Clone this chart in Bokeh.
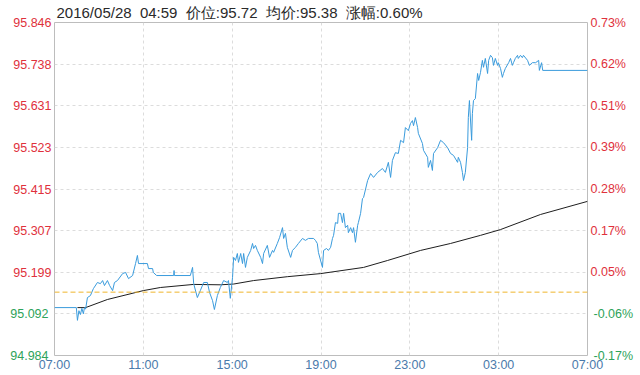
from bokeh.plotting import figure
from bokeh.models import (Range1d, LinearAxis, FixedTicker, Span, CustomJSTickFormatter)
from bokeh.embed import file_html
from bokeh.resources import INLINE

# ---------------- data ----------------
# minutes after 07:00 (session 07:00 -> 07:00 next day)
price_min = [0, 59, 62, 66, 70, 74, 78, 81, 84, 89, 97, 105, 116, 124, 130, 135, 143, 149, 157, 162,
             170, 184, 192, 200, 211, 219, 224, 227, 251, 254, 265, 267, 276, 322, 323, 324, 367, 373, 376, 386,
             394, 403, 413, 419, 427, 432, 440, 448, 457, 467, 470, 475, 481, 484, 489, 494, 497, 503, 508, 511,
             516, 521, 530, 535, 538, 543, 548, 557, 562, 565, 575, 581, 589, 592, 602, 608, 616, 619, 624, 629,
             638, 643, 651, 659, 670, 678, 686, 700, 705, 710, 713, 724, 727, 735, 740, 746, 751, 754, 759, 765,
             767, 773, 778, 781, 786, 792, 794, 800, 805, 808, 813, 819, 821, 827, 832, 835, 846, 854, 862, 873,
             886, 894, 902, 908, 913, 921, 929, 935, 943, 948, 956, 962, 967, 970, 975, 981, 983, 994, 997, 1008,
             1010, 1016, 1021, 1024, 1035, 1043, 1051, 1062, 1070, 1078, 1089, 1091, 1097, 1102, 1105, 1110, 1116, 1118, 1121, 1127,
             1129, 1132, 1137, 1143, 1146, 1151, 1156, 1159, 1164, 1170, 1173, 1178, 1183, 1186, 1191, 1197, 1199, 1205, 1210, 1213,
             1218, 1227, 1232, 1237, 1240, 1245, 1251, 1253, 1259, 1264, 1267, 1278, 1283, 1291, 1300, 1308, 1310, 1316, 1319, 1440]
price = [95.108, 95.108, 95.075, 95.100, 95.090, 95.106, 95.092, 95.108, 95.104, 95.134, 95.139, 95.157, 95.173, 95.170, 95.178, 95.165, 95.178, 95.165, 95.152, 95.173,
         95.178, 95.196, 95.199, 95.183, 95.191, 95.222, 95.243, 95.222, 95.222, 95.209, 95.209, 95.199, 95.191, 95.191, 95.204, 95.191, 95.191, 95.212, 95.170, 95.134,
         95.152, 95.173, 95.173, 95.147, 95.126, 95.103, 95.139, 95.160, 95.178, 95.173, 95.178, 95.132, 95.186, 95.238, 95.230, 95.248, 95.225, 95.248, 95.222, 95.248,
         95.212, 95.238, 95.256, 95.274, 95.261, 95.269, 95.256, 95.238, 95.222, 95.248, 95.269, 95.238, 95.256, 95.251, 95.274, 95.289, 95.315, 95.287, 95.300, 95.264,
         95.238, 95.256, 95.264, 95.274, 95.287, 95.282, 95.287, 95.287, 95.282, 95.274, 95.251, 95.212, 95.256, 95.261, 95.256, 95.264, 95.287, 95.295, 95.328, 95.326,
         95.352, 95.352, 95.328, 95.352, 95.315, 95.321, 95.302, 95.315, 95.302, 95.315, 95.277, 95.321, 95.328, 95.352, 95.390, 95.393, 95.437, 95.455, 95.445, 95.458,
         95.468, 95.458, 95.484, 95.445, 95.489, 95.509, 95.507, 95.541, 95.535, 95.574, 95.566, 95.585, 95.592, 95.579, 95.600, 95.574, 95.559, 95.533, 95.515, 95.497,
         95.471, 95.489, 95.463, 95.507, 95.522, 95.541, 95.535, 95.522, 95.507, 95.502, 95.484, 95.497, 95.484, 95.458, 95.437, 95.458, 95.522, 95.600, 95.644, 95.541,
         95.610, 95.644, 95.649, 95.714, 95.696, 95.717, 95.748, 95.730, 95.753, 95.714, 95.748, 95.761, 95.755, 95.735, 95.753, 95.735, 95.742, 95.727, 95.704, 95.714,
         95.727, 95.742, 95.753, 95.735, 95.742, 95.753, 95.761, 95.753, 95.761, 95.755, 95.761, 95.748, 95.735, 95.742, 95.742, 95.748, 95.722, 95.742, 95.722, 95.722]

avg_min = [62, 84, 143, 240, 286, 376, 448, 484, 538, 629, 719, 835, 900, 989, 1070, 1151, 1205, 1313, 1440]
avg_price = [95.108, 95.108, 95.129, 95.152, 95.160, 95.168, 95.167, 95.169, 95.178, 95.188, 95.196, 95.212,
             95.230, 95.256, 95.274, 95.295, 95.310, 95.349, 95.383]

prev_close = 95.148

y_ticks = [94.984, 95.092, 95.199, 95.307, 95.415, 95.523, 95.631, 95.738, 95.846]
y_labels = ["94.984", "95.092", "95.199", "95.307", "95.415", "95.523", "95.631", "95.738", "95.846"]
pct_labels = ["-0.17%", "-0.06%", "0.05%", "0.17%", "0.28%", "0.39%", "0.51%", "0.62%", "0.73%"]

x_ticks = [0, 240, 480, 720, 960, 1200, 1440]
x_labels = ["07:00", "11:00", "15:00", "19:00", "23:00", "03:00", "07:00"]

header_parts = ["2016/05/28", "04:59", "价位:95.72", "均价:95.38", "涨幅:0.60%"]

assert len(price_min) == len(price)

# ---------------- styles ----------------
RED = "#e0313c"
GREEN = "#2ea35a"
BLUE_TXT = "#4a7aab"
FONT = "Liberation Sans"
FS = "12.5px"
LEFT_LABEL_W = 38    # approx. pixel width of a "95.xxx" label
RIGHT_LABEL_W = 35   # approx. pixel width of a "0.xx%" label

p = figure(width=640, height=375, output_backend="svg", toolbar_location=None,
           x_range=Range1d(0, 1440), y_range=Range1d(y_ticks[0], y_ticks[-1]),
           min_border_left=54, min_border_right=53, min_border_top=22, min_border_bottom=20,
           background_fill_color="white", border_fill_color="white")
p.outline_line_color = "#bdbdbd"
p.outline_line_width = 1

p.title.text = "\u00a0\u00a0".join(header_parts)
p.title.align = "left"
p.title.offset = 2
p.title.standoff = 3
p.title.text_font = FONT
p.title.text_font_size = "15px"
p.title.text_font_style = "normal"
p.title.text_color = "#2a2a2a"

red_ticks = [t for t in y_ticks if t > prev_close]
green_ticks = [t for t in y_ticks if t < prev_close]

lookup_code = """
let b = 0;
for (let i = 0; i < tv.length; i++) {
  if (Math.abs(tv[i] - tick) < Math.abs(tv[b] - tick)) b = i;
}
return tl[b];
"""


def style_axis(ax, color, standoff=3):
    ax.major_label_text_color = color
    ax.major_label_text_font = FONT
    ax.major_label_text_font_size = FS
    ax.major_label_standoff = standoff
    ax.major_tick_line_color = None
    ax.minor_tick_line_color = None
    ax.major_tick_out = 0
    ax.major_tick_in = 0
    ax.minor_tick_out = 0
    ax.minor_tick_in = 0
    ax.axis_line_color = None


# left axis: red labels (above previous close)
yax = p.yaxis[0]
yax.ticker = FixedTicker(ticks=red_ticks, minor_ticks=[])
yax.formatter = CustomJSTickFormatter(args=dict(tv=y_ticks, tl=y_labels), code=lookup_code)
style_axis(yax, RED)

# left axis: green labels (below previous close); negative standoff pulls them back to the frame edge
yax_g = LinearAxis(ticker=FixedTicker(ticks=green_ticks, minor_ticks=[]),
                   formatter=CustomJSTickFormatter(args=dict(tv=y_ticks, tl=y_labels), code=lookup_code))
style_axis(yax_g, GREEN, standoff=-LEFT_LABEL_W)
p.add_layout(yax_g, "left")

# right axis: percent labels
rax = LinearAxis(ticker=FixedTicker(ticks=red_ticks, minor_ticks=[]),
                 formatter=CustomJSTickFormatter(args=dict(tv=y_ticks, tl=pct_labels), code=lookup_code))
style_axis(rax, RED)
p.add_layout(rax, "right")

rax_g = LinearAxis(ticker=FixedTicker(ticks=green_ticks, minor_ticks=[]),
                   formatter=CustomJSTickFormatter(args=dict(tv=y_ticks, tl=pct_labels), code=lookup_code))
style_axis(rax_g, GREEN, standoff=-RIGHT_LABEL_W)
p.add_layout(rax_g, "right")

# x axis
xax = p.xaxis[0]
xax.ticker = FixedTicker(ticks=x_ticks, minor_ticks=[])
xax.formatter = CustomJSTickFormatter(args=dict(tv=x_ticks, tl=x_labels), code=lookup_code)
style_axis(xax, BLUE_TXT, standoff=2)

# grids
p.ygrid.ticker = FixedTicker(ticks=y_ticks[1:-1])
p.xgrid.ticker = FixedTicker(ticks=x_ticks[1:-1])
for g in (p.xgrid[0], p.ygrid[0]):
    g.grid_line_color = "#dcdcdc"
    g.grid_line_dash = "3 3"
    g.grid_line_width = 1

# previous close
p.add_layout(Span(location=prev_close, dimension="width", line_color="#efb52c",
                  line_dash="5 3", line_width=1))

# lines
p.line(avg_min, avg_price, line_color="#1e1e1e", line_width=1)
p.line(price_min, price, line_color="#3a9bdc", line_width=1)

open("out.html", "w").write(file_html(p, INLINE))
